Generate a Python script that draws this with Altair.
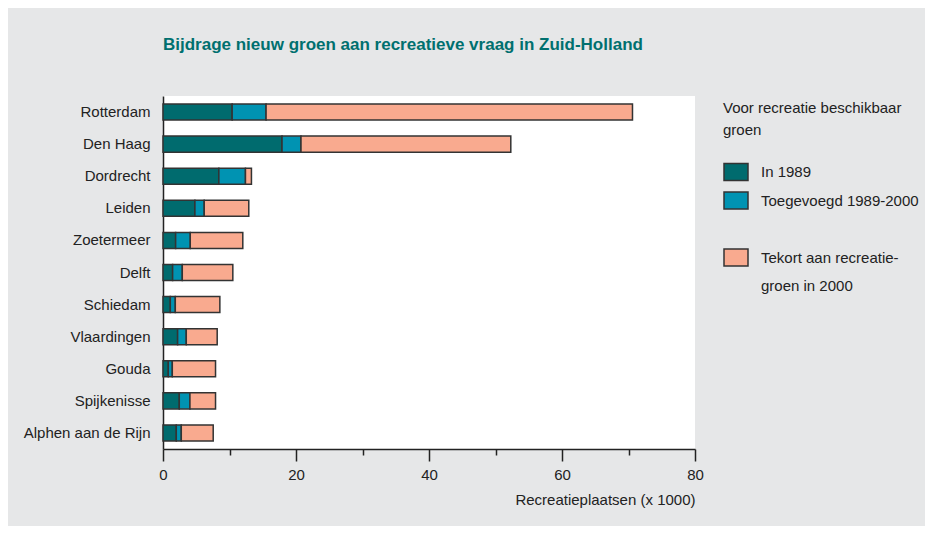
import altair as alt
import pandas as pd

cities = ["Rotterdam", "Den Haag", "Dordrecht", "Leiden", "Zoetermeer", "Delft",
          "Schiedam", "Vlaardingen", "Gouda", "Spijkenisse", "Alphen aan de Rijn"]
in_1989 = [10.4, 17.9, 8.4, 4.8, 1.9, 1.45, 1.1, 2.2, 0.8, 2.45, 2.0]
toegevoegd = [5.1, 2.85, 4.0, 1.4, 2.2, 1.45, 0.75, 1.3, 0.6, 1.6, 0.75]
tekort = [55.1, 31.55, 0.9, 6.7, 7.9, 7.6, 6.7, 4.65, 6.5, 3.85, 4.8]

series = ["In 1989", "Toegevoegd 1989-2000", "Tekort aan recreatiegroen in 2000"]
fills = ["#006b6e", "#0093b2", "#f9aa8f"]
edge = "#333333"

# legend entries (blank spacer + second label line)
legend_domain = [series[0], series[1], "", series[2], "groen in 2000"]
legend_fill = [fills[0], fills[1], "transparent", fills[2], "transparent"]
legend_stroke = [edge, edge, "transparent", edge, "transparent"]

rows = []
for c, a, b, t in zip(cities, in_1989, toegevoegd, tekort):
    for i, (s, v) in enumerate(zip(series, [a, b, t])):
        rows.append({"stad": c, "reeks": s, "waarde": v, "volgorde": i})
df = pd.DataFrame(rows)

label_expr = ("datum.label == 'Tekort aan recreatiegroen in 2000' ? "
              "'Tekort aan recreatie-' : datum.label")

legend = alt.Legend(
    title=["Voor recreatie beschikbaar", "groen"],
    orient="none", legendX=560, legendY=5,
    symbolType="M-1,-0.708L1,-0.708L1,0.708L-1,0.708Z", symbolSize=576,
    symbolStrokeWidth=1.5, labelOffset=12, rowPadding=3.5,
    titlePadding=21, titleLineHeight=22, labelExpr=label_expr,
)

chart = alt.Chart(df).mark_bar(strokeWidth=1.5).encode(
    y=alt.Y("stad:N", sort=cities, title=None,
            scale=alt.Scale(paddingInner=0.5, paddingOuter=0.25),
            axis=alt.Axis(ticks=False, labelPadding=13, domainColor="#222",
                          domainWidth=1.5)),
    x=alt.X("waarde:Q", title="Recreatieplaatsen (x 1000)",
            scale=alt.Scale(domain=[0, 80], nice=False),
            axis=alt.Axis(values=[0, 10, 20, 30, 40, 50, 60, 70, 80],
                          labelExpr="datum.value % 20 == 0 ? datum.label : ''",
                          labelFlush=False,
                          tickSize={"condition": {"test": "datum.value % 20 == 0", "value": 12}, "value": 6},
                          tickColor="#222", tickWidth=1.5, domainColor="#222",
                          domainWidth=1.5, labelPadding=6, grid=False,
                          titleAnchor="end", titleAlign="right", titlePadding=10)),
    fill=alt.Fill("reeks:N", scale=alt.Scale(domain=legend_domain, range=legend_fill),
                  legend=legend),
    stroke=alt.Stroke("reeks:N", scale=alt.Scale(domain=legend_domain, range=legend_stroke),
                      legend=legend),
    order=alt.Order("volgorde:Q"),
).properties(
    width=532, height=353,
    autosize=alt.AutoSizeParams(type="none"),
    padding={"left": 155, "top": 88, "right": 230, "bottom": 77},
    background="#e6e7e8",
    title=alt.TitleParams(
        "Bijdrage nieuw groen aan recreatieve vraag in Zuid-Holland",
        anchor="start", fontSize=17, fontWeight="bold", color="#00706f",
        font="Liberation Sans", offset=42, frame="group"),
).configure_view(stroke=None, fill="white").configure_axis(
    labelFont="Liberation Sans", titleFont="Liberation Sans",
    labelFontSize=15, titleFontSize=15, labelColor="#222", titleColor="#222",
    titleFontWeight="normal",
).configure_legend(
    labelFont="Liberation Sans", titleFont="Liberation Sans",
    labelFontSize=15, titleFontSize=15, labelColor="#222", titleColor="#222",
    titleFontWeight="normal", labelLimit=300,
)

chart.save("out.html", embed_options={"renderer": "svg", "actions": False})
